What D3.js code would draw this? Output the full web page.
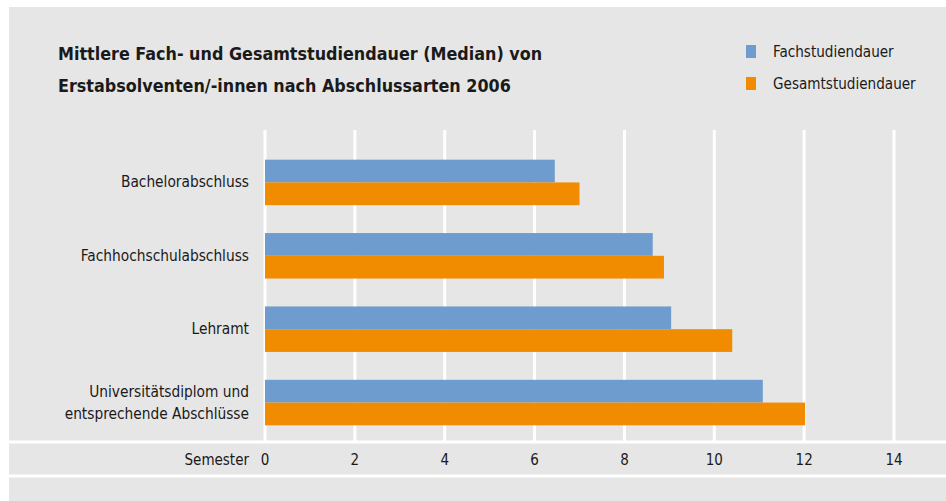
<!DOCTYPE html>
<html>
<head>
<meta charset="utf-8">
<script src="https://cdn.jsdelivr.net/npm/d3@7"></script>
<style>
  body { margin: 0; background: #fff; }
  text { font-family: "Liberation Sans Narrow", "DejaVu Sans Condensed", sans-serif; fill: #1a1a1a; }
</style>
</head>
<body>
<div id="chart"></div>
<script>
// Abschlussarten und Werte (Semester)
var categories = ["Bachelorabschluss", "Fachhochschulabschluss", "Lehramt", "Universitätsdiplom und|entsprechende Abschlüsse"]
var fachstudiendauer = [6.45, 8.63, 9.04, 11.08]
var gesamtstudiendauer = [7.0, 8.88, 10.4, 12.02]
var seriesNames = ["Fachstudiendauer", "Gesamtstudiendauer"]
var seriesColors = ["#6f9ccf", "#f18b00"]
var ticks = [0, 2, 4, 6, 8, 10, 12, 14]

var width = 946, height = 501

var svg = d3.select("#chart")
  .append("svg")
  .attr("width", width)
  .attr("height", height)

// grauer Hintergrund
svg.append("rect")
  .attr("x", 9).attr("y", 7)
  .attr("width", width - 9).attr("height", height - 7)
  .attr("fill", "#e6e6e6")

var x = d3.scaleLinear().domain([0, 14]).range([265, 894])

var y = d3.scaleBand()
  .domain(categories)
  .range([145, 440])
  .paddingInner(0.38)
  .paddingOuter(0.2)

var sub = d3.scaleBand()
  .domain(seriesNames)
  .range([0, y.bandwidth()])

// Gitterlinien
svg.selectAll(".grid")
  .data(ticks)
  .enter()
  .append("line")
  .attr("x1", function(d){ return x(d) })
  .attr("x2", function(d){ return x(d) })
  .attr("y1", 130)
  .attr("y2", 442)
  .attr("stroke", "#fff")
  .attr("stroke-width", 3)

svg.append("line")
  .attr("x1", 9).attr("x2", width)
  .attr("y1", 442).attr("y2", 442)
  .attr("stroke", "#fff").attr("stroke-width", 3)

svg.append("line")
  .attr("x1", 9).attr("x2", width)
  .attr("y1", 476).attr("y2", 476)
  .attr("stroke", "#fff").attr("stroke-width", 3)

// Balken
var rows = categories.map(function(c, i){
  return {cat: c, values: [fachstudiendauer[i], gesamtstudiendauer[i]]}
})

var groups = svg.selectAll(".grp")
  .data(rows)
  .enter()
  .append("g")
  .attr("transform", function(d){ return "translate(0," + y(d.cat) + ")" })

groups.selectAll("rect")
  .data(function(d){ return d.values.map(function(v, k){ return {name: seriesNames[k], value: v, k: k} }) })
  .enter()
  .append("rect")
  .attr("x", x(0))
  .attr("y", function(d){ return sub(d.name) })
  .attr("width", function(d){ return x(d.value) - x(0) })
  .attr("height", sub.bandwidth())
  .attr("fill", function(d){ return seriesColors[d.k] })

// Kategorien-Beschriftung
groups.each(function(d){
  var lines = d.cat.split("|")
  var t = d3.select(this).append("text")
    .attr("text-anchor", "end")
    .attr("font-size", 15.3)
  var c = y.bandwidth() / 2
  lines.forEach(function(l, i){
    t.append("tspan")
      .attr("x", 249)
      .attr("y", c + 5 + (i - (lines.length - 1) / 2) * 22)
      .text(l)
  })
})

// Achse
svg.selectAll(".tick")
  .data(ticks)
  .enter()
  .append("text")
  .attr("x", function(d){ return x(d) })
  .attr("y", 465)
  .attr("text-anchor", "middle")
  .attr("font-size", 15)
  .text(function(d){ return d })

svg.append("text")
  .attr("x", 249).attr("y", 465)
  .attr("text-anchor", "end")
  .attr("font-size", 15)
  .text("Semester")

// Titel
var title = svg.append("text")
  .attr("font-size", 17.8)
  .attr("font-weight", "bold")
title.append("tspan").attr("x", 58).attr("y", 60).text("Mittlere Fach- und Gesamtstudiendauer (Median) von")
title.append("tspan").attr("x", 58).attr("y", 92).text("Erstabsolventen/-innen nach Abschlussarten 2006")

// Legende
var legend = svg.selectAll(".leg")
  .data(seriesNames)
  .enter()
  .append("g")
  .attr("transform", function(d, i){ return "translate(746," + (45 + i * 32) + ")" })

legend.append("rect")
  .attr("width", 10).attr("height", 13)
  .attr("fill", function(d, i){ return seriesColors[i] })

legend.append("text")
  .attr("x", 27).attr("y", 12)
  .attr("font-size", 15.1)
  .text(function(d){ return d })
</script>
</body>
</html>
